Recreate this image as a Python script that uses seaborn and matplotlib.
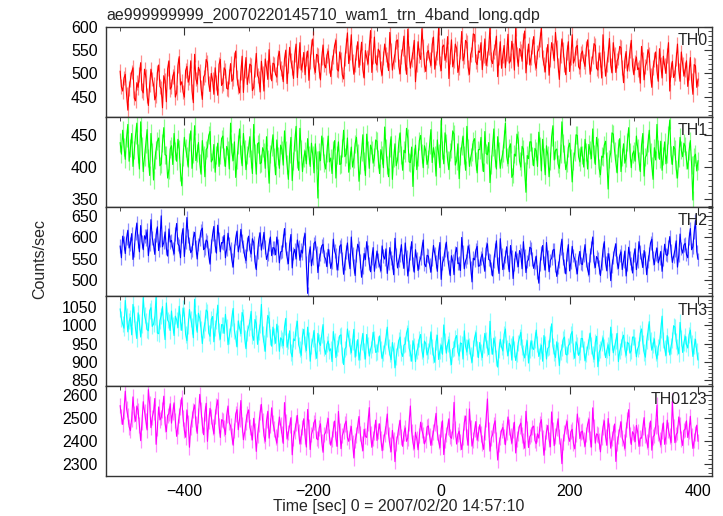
import numpy as np
import matplotlib
matplotlib.use("Agg")
import matplotlib.pyplot as plt
from matplotlib.ticker import MultipleLocator
import seaborn as sns

# light curve bins (2 s) from -500 to 400 sec
time = np.arange(-500, 401, 2)

th0 = [
    505, 471, 462, 490, 498, 455, 421, 468, 486, 503, 512, 447, 441, 480, 470, 497, 523, 464, 458, 509, 493, 452, 431, 476, 509, 488, 476, 443, 452, 501, 518, 472, 467, 426, 495, 484, 439, 510, 527, 466,
    471, 494, 503, 449, 458, 517, 536, 475, 482, 460, 449, 506, 515, 481, 490, 527, 462, 437, 541, 488, 477, 513, 505, 469, 444, 492, 498, 530, 523, 478, 461, 500, 486, 455, 512, 481, 453, 519, 530, 474,
    479, 512, 507, 468, 466, 493, 521, 483, 488, 529, 548, 491, 472, 458, 501, 537, 459, 505, 534, 476, 495, 520, 517, 463, 470, 508, 543, 496, 489, 460, 526, 499, 462, 531, 512, 487, 551, 503, 484, 522,
    520, 498, 492, 535, 547, 510, 503, 482, 531, 550, 478, 516, 556, 527, 512, 489, 540, 563, 491, 528, 566, 507, 519, 545, 497, 532, 548, 485, 525, 557, 574, 514, 502, 541, 538, 506, 486, 533, 561, 519,
    512, 539, 548, 516, 493, 524, 537, 560, 571, 509, 505, 546, 529, 497, 488, 531, 559, 587, 521, 544, 583, 526, 498, 518, 545, 568, 513, 535, 567, 508, 490, 549, 534, 520, 556, 592, 502, 537, 578, 523,
    518, 552, 547, 510, 496, 533, 563, 541, 529, 506, 588, 550, 507, 526, 541, 569, 572, 515, 499, 537, 553, 580, 524, 498, 595, 543, 511, 529, 546, 571, 482, 520, 568, 539, 530, 596, 557, 518, 504, 544,
    549, 530, 517, 562, 578, 509, 533, 545, 598, 521, 506, 557, 561, 528, 540, 579, 489, 536, 572, 514, 528, 563, 554, 502, 513, 547, 590, 527, 537, 571, 566, 512, 498, 541, 551, 585, 583, 525, 519, 548,
    545, 566, 508, 538, 574, 517, 532, 555, 600, 529, 521, 547, 556, 580, 493, 534, 568, 511, 539, 560, 512, 543, 584, 522, 527, 569, 550, 507, 597, 540, 515, 553, 548, 526, 570, 591, 501, 536, 563, 518,
    534, 557, 579, 524, 511, 546, 552, 573, 598, 535, 520, 503, 541, 562, 496, 530, 566, 549, 527, 588, 555, 518, 487, 539, 574, 551, 519, 497, 545, 568, 504, 533, 583, 522, 531, 556, 560, 514, 509, 542,
    548, 526, 515, 553, 572, 536, 498, 521, 537, 564, 560, 511, 507, 544, 529, 490, 583, 532, 494, 519, 541, 575, 518, 501, 566, 540, 502, 527, 533, 558, 555, 513, 480, 528, 547, 505, 522, 549, 571, 516,
    497, 523, 535, 508, 512, 479, 558, 530, 486, 515, 524, 551, 541, 495, 470, 512, 529, 546, 505, 483, 553, 520, 490, 537, 517, 500, 538, 566, 462, 509, 526, 491, 499, 531, 563, 507, 483, 546, 520, 494,
    508, 527, 472, 501, 534, 485, 455, 519, 516, 470, 488,
]
th1 = [
    438, 420, 457, 431, 412, 445, 466, 409, 429, 452, 401, 426, 449, 468, 421, 397, 470, 433, 393, 416, 436, 458, 414, 387, 452, 424, 380, 411, 427, 440, 445, 402, 405, 437, 461, 419, 418, 383, 396, 428,
    433, 404, 452, 425, 409, 443, 428, 392, 371, 415, 446, 430, 417, 400, 439, 456, 398, 421, 464, 410, 422, 438, 406, 389, 441, 419, 385, 427, 430, 449, 455, 408, 412, 435, 392, 418, 437, 401, 419, 444,
    448, 415, 401, 432, 426, 397, 468, 423, 410, 439, 384, 411, 435, 459, 420, 402, 452, 428, 396, 418, 429, 447, 413, 390, 466, 421, 389, 436, 438, 405, 407, 430, 424, 398, 447, 412, 375, 420, 431, 450,
    415, 388, 442, 417, 398, 434, 427, 403, 456, 426, 404, 381, 421, 446, 379, 410, 439, 463, 412, 395, 460, 428, 393, 414, 425, 405, 444, 419, 401, 437, 418, 391, 436, 411, 352, 424, 410, 448, 433, 407,
    397, 422, 448, 408, 414, 390, 426, 441, 383, 418, 439, 404, 405, 429, 457, 416, 420, 445, 392, 411, 431, 400, 413, 436, 446, 421, 378, 403, 424, 450, 409, 387, 451, 427, 398, 434, 427, 406, 415, 442,
    440, 412, 390, 427, 418, 399, 462, 430, 403, 385, 429, 447, 381, 414, 436, 402, 411, 438, 453, 419, 395, 426, 422, 460, 445, 408, 407, 431, 370, 415, 434, 396, 416, 441, 449, 421, 399, 433, 425, 404,
    412, 435, 458, 407, 430, 418, 386, 442, 421, 399, 472, 426, 405, 453, 437, 411, 396, 423, 428, 456, 451, 403, 410, 436, 382, 417, 433, 448, 418, 395, 463, 429, 401, 415, 424, 440, 444, 409, 391, 427,
    427, 446, 408, 393, 455, 421, 419, 438, 376, 404, 431, 459, 414, 397, 447, 425, 398, 412, 422, 443, 468, 416, 405, 430, 436, 384, 389, 420, 417, 451, 442, 409, 400, 432, 428, 394, 361, 418, 413, 439,
    439, 417, 402, 429, 425, 401, 454, 432, 394, 443, 416, 388, 433, 419, 385, 410, 447, 464, 411, 426, 428, 405, 398, 421, 470, 437, 420, 396, 406, 430, 437, 414, 377, 409, 423, 450, 449, 416, 408, 431,
    418, 400, 443, 424, 397, 435, 426, 413, 459, 420, 404, 446, 431, 398, 388, 417, 415, 434, 440, 409, 366, 412, 422, 453, 451, 425, 407, 391, 429, 444, 393, 416, 436, 406, 414, 439, 461, 423, 399, 420,
    425, 409, 448, 430, 410, 393, 434, 452, 386, 415, 419, 437, 457, 424, 402, 381, 430, 411, 466, 428, 412, 440, 395, 417, 439, 405, 421, 449, 473, 418, 404, 432, 428, 397, 383, 414, 446, 426, 416, 437,
    432, 411, 397, 425, 441, 403, 349, 416, 420, 394, 410,
]
th2 = [
    580, 552, 603, 587, 562, 598, 617, 575, 585, 609, 548, 571, 611, 634, 592, 566, 628, 590, 571, 604, 596, 618, 557, 583, 642, 599, 583, 560, 606, 625, 569, 594, 651, 578, 588, 613, 574, 556, 620, 589,
    593, 574, 561, 608, 633, 585, 580, 552, 604, 621, 555, 589, 647, 603, 586, 564, 570, 599, 612, 578, 549, 583, 596, 616, 622, 571, 575, 594, 590, 558, 537, 580, 607, 626, 581, 563, 629, 597, 566, 588,
    587, 605, 552, 573, 610, 586, 574, 547, 530, 569, 598, 615, 566, 581, 619, 592, 579, 556, 545, 584, 603, 571, 561, 597, 588, 543, 524, 565, 596, 611, 570, 589, 612, 577, 548, 560, 583, 601, 557, 576,
    575, 559, 601, 580, 540, 566, 567, 593, 621, 574, 553, 538, 585, 607, 528, 562, 572, 549, 594, 578, 546, 570, 563, 597, 609, 541, 468, 557, 578, 533, 552, 586, 590, 564, 517, 548, 561, 580, 584, 555,
    549, 531, 572, 556, 527, 542, 596, 568, 558, 523, 540, 579, 583, 550, 513, 539, 566, 587, 548, 526, 601, 561, 532, 510, 557, 584, 575, 544, 506, 530, 562, 548, 590, 565, 538, 519, 551, 576, 520, 543,
    568, 547, 534, 521, 580, 556, 549, 573, 515, 539, 576, 552, 542, 512, 598, 560, 528, 546, 559, 583, 545, 527, 587, 555, 509, 536, 563, 590, 537, 518, 571, 550, 522, 541, 551, 574, 594, 537, 531, 558,
    556, 535, 518, 549, 581, 562, 543, 520, 565, 588, 501, 540, 549, 571, 589, 553, 530, 510, 557, 544, 512, 563, 576, 538, 540, 522, 600, 566, 526, 545, 553, 580, 568, 529, 495, 551, 547, 570, 579, 532,
    533, 552, 561, 539, 520, 574, 585, 548, 546, 527, 509, 545, 570, 592, 538, 515, 597, 560, 524, 541, 555, 578, 542, 519, 581, 554, 503, 536, 566, 547, 531, 569, 559, 526, 590, 556, 517, 543, 548, 577,
    574, 549, 527, 541, 556, 518, 492, 537, 563, 581, 540, 523, 588, 555, 519, 546, 551, 570, 572, 534, 508, 529, 545, 575, 596, 550, 532, 514, 560, 583, 521, 542, 579, 557, 548, 530, 514, 552, 567, 538,
    536, 559, 583, 547, 525, 512, 558, 576, 601, 543, 529, 555, 549, 530, 510, 538, 571, 590, 540, 521, 562, 548, 498, 533, 553, 572, 585, 541, 527, 557, 566, 524, 545, 568, 509, 536, 577, 552, 538, 516,
    558, 573, 524, 545, 590, 566, 547, 529, 569, 551, 512, 543, 561, 587, 596, 552, 536, 561, 575, 540, 550, 567, 520, 548, 584, 560, 557, 578, 602, 569, 541, 555, 570, 592, 530, 558, 608, 574, 563, 582,
    586, 560, 552, 597, 621, 571, 578, 612, 640, 567, 548,
]
th3 = [
    1045, 1018, 1003, 992, 1068, 1026, 982, 1011, 1021, 974, 1057, 1031, 990, 964, 1034, 1009, 968, 1002, 1076, 1027, 1012, 988, 985, 1040, 1048, 997, 1003, 1022, 1080, 979, 977, 1013, 1026, 1051, 995, 961, 1061, 1014, 1008, 986,
    1039, 1001, 972, 1025, 1015, 994, 1052, 1010, 986, 1047, 1028, 975, 958, 999, 1043, 1018, 997, 966, 1071, 1008, 981, 1033, 1019, 990, 950, 987, 1006, 1042, 1037, 979, 970, 1016, 1024, 955, 993, 1011, 1055, 983, 962, 1002,
    1001, 978, 1030, 996, 947, 970, 989, 1021, 1046, 985, 966, 941, 1012, 993, 977, 1035, 1023, 964, 936, 980, 994, 1009, 1038, 972, 959, 1016, 1005, 948, 981, 1000, 1057, 976, 952, 929, 990, 1027, 1018, 968, 943, 995,
    972, 951, 1003, 980, 929, 966, 961, 944, 996, 1019, 940, 957, 985, 926, 914, 963, 958, 992, 1011, 947, 935, 918, 971, 989, 948, 931, 995, 960, 902, 944, 962, 986, 931, 910, 978, 953, 945, 975, 1002, 937,
    921, 948, 957, 930, 936, 901, 983, 958, 912, 939, 949, 972, 974, 920, 893, 935, 941, 990, 966, 944, 925, 955, 989, 913, 938, 961, 905, 927, 954, 978, 931, 908, 975, 946, 916, 934, 947, 981, 962, 926,
    928, 950, 971, 936, 909, 924, 944, 967, 995, 941, 922, 906, 953, 932, 884, 915, 937, 959, 968, 925, 915, 946, 949, 979, 992, 938, 926, 902, 958, 943, 901, 929, 940, 963, 975, 931, 913, 957, 950, 919,
    931, 945, 982, 940, 918, 899, 955, 973, 907, 930, 946, 921, 1001, 957, 924, 948, 961, 914, 893, 936, 939, 964, 972, 928, 916, 952, 950, 908, 985, 942, 927, 960, 944, 918, 899, 937, 966, 980, 935, 912,
    953, 928, 912, 947, 978, 959, 939, 920, 1011, 944, 921, 965, 948, 910, 886, 933, 962, 941, 930, 975, 990, 938, 917, 951, 944, 905, 969, 936, 904, 923, 952, 967, 981, 940, 925, 911, 940, 958, 897, 932,
    958, 939, 934, 961, 987, 948, 915, 929, 946, 902, 972, 950, 908, 937, 941, 976, 1004, 943, 926, 912, 955, 933, 890, 928, 937, 962, 968, 921, 919, 944, 949, 975, 983, 930, 910, 955, 945, 918, 927, 964,
    964, 936, 903, 922, 940, 958, 979, 945, 921, 907, 953, 970, 887, 926, 934, 951, 966, 940, 912, 932, 947, 917, 995, 956, 925, 942, 958, 978, 901, 929, 942, 962, 973, 935, 918, 954, 950, 924, 931, 968,
    968, 947, 914, 936, 945, 978, 990, 952, 926, 913, 957, 982, 1010, 959, 932, 946, 963, 925, 908, 940, 951, 987, 1025, 961, 937, 918, 972, 950, 919, 943, 960, 999, 995, 957, 941, 922, 1008, 966, 926, 953,
    970, 948, 938, 974, 987, 952, 915, 943, 962, 929, 905,
]
th0123 = [
    2555, 2508, 2472, 2531, 2618, 2540, 2510, 2462, 2445, 2497, 2593, 2517, 2486, 2553, 2534, 2470, 2401, 2482, 2572, 2529, 2490, 2448, 2625, 2561, 2458, 2503, 2527, 2586, 2385, 2454, 2549, 2492, 2503, 2536, 2596, 2475, 2441, 2512, 2520, 2563,
    2478, 2526, 2567, 2489, 2420, 2463, 2512, 2548, 2589, 2501, 2447, 2416, 2536, 2480, 2372, 2459, 2495, 2533, 2558, 2476, 2433, 2511, 2604, 2538, 2470, 2427, 2521, 2565, 2398, 2484, 2543, 2506, 2462, 2431, 2507, 2552, 2580, 2468, 2415, 2493,
    2490, 2457, 2428, 2512, 2553, 2480, 2466, 2421, 2381, 2446, 2518, 2537, 2449, 2495, 2577, 2472, 2405, 2438, 2482, 2519, 2536, 2460, 2437, 2404, 2499, 2443, 2354, 2425, 2471, 2526, 2560, 2487, 2423, 2398, 2489, 2530, 2412, 2467, 2545, 2478,
    2452, 2416, 2390, 2451, 2505, 2469, 2431, 2389, 2568, 2486, 2408, 2437, 2467, 2502, 2339, 2412, 2443, 2478, 2512, 2440, 2386, 2420, 2459, 2497, 2421, 2373, 2538, 2463, 2362, 2429, 2448, 2481, 2493, 2410, 2405, 2456, 2475, 2396, 2350, 2427,
    2437, 2470, 2498, 2419, 2381, 2408, 2452, 2487, 2410, 2376, 2529, 2445, 2366, 2423, 2441, 2473, 2487, 2414, 2398, 2436, 2463, 2392, 2325, 2401, 2426, 2468, 2507, 2433, 2389, 2357, 2451, 2421, 2415, 2479, 2546, 2430, 2372, 2411, 2438, 2491,
    2402, 2443, 2475, 2410, 2357, 2396, 2431, 2465, 2518, 2427, 2384, 2352, 2446, 2406, 2309, 2389, 2420, 2459, 2491, 2418, 2376, 2435, 2457, 2398, 2412, 2478, 2553, 2441, 2393, 2365, 2438, 2409, 2361, 2424, 2482, 2447, 2425, 2387, 2404, 2461,
    2466, 2421, 2380, 2415, 2439, 2476, 2521, 2437, 2398, 2370, 2453, 2488, 2340, 2401, 2427, 2462, 2497, 2419, 2411, 2444, 2569, 2452, 2386, 2428, 2443, 2395, 2362, 2417, 2480, 2509, 2418, 2381, 2540, 2458, 2377, 2404, 2449, 2485, 2403, 2432,
    2471, 2430, 2391, 2363, 2436, 2497, 2584, 2450, 2355, 2412, 2427, 2469, 2488, 2403, 2316, 2385, 2414, 2446, 2459, 2420, 2383, 2437, 2505, 2461, 2422, 2390, 2447, 2482, 2347, 2408, 2433, 2466, 2478, 2425, 2399, 2368, 2530, 2455, 2371, 2419,
    2428, 2459, 2465, 2402, 2388, 2431, 2412, 2476, 2493, 2415, 2337, 2392, 2441, 2468, 2407, 2374, 2527, 2449, 2379, 2421, 2455, 2497, 2420, 2380, 2300, 2395, 2434, 2463, 2486, 2417, 2398, 2441, 2451, 2389, 2365, 2427, 2518, 2472, 2410, 2438,
    2443, 2407, 2376, 2429, 2472, 2495, 2409, 2373, 2545, 2462, 2390, 2431, 2426, 2399, 2352, 2415, 2461, 2488, 2417, 2381, 2498, 2445, 2368, 2410, 2437, 2474, 2310, 2388, 2420, 2452, 2484, 2412, 2395, 2367, 2449, 2491, 2537, 2426, 2384, 2440,
    2430, 2397, 2468, 2439, 2376, 2413, 2412, 2458, 2502, 2426, 2398, 2371, 2451, 2487, 2359, 2418, 2425, 2466, 2558, 2434, 2407, 2382, 2444, 2479, 2385, 2420, 2491, 2447, 2421, 2393, 2574, 2463, 2392, 2428, 2436, 2505, 2470, 2409, 2380, 2446,
    2452, 2488, 2415, 2443, 2508, 2422, 2367, 2401, 2433, 2469, 2398,
]
# typical 1-sigma error bar per band (counts/sec), read off the light shading
errors = [16, 14, 16, 22, 34]

series = [th0, th1, th2, th3, th0123]
names = ["TH0", "TH1", "TH2", "TH3", "TH0123"]
colors = ["#ff0000", "#00ff00", "#0000ff", "#00ffff", "#ff00ff"]
ylims = [(407, 600), (339, 478), (461, 673), (834, 1079), (2246, 2640)]
major = [50, 50, 50, 50, 100]
minor = [10, 10, 10, 10, 20]

sns.set_style("white")
plt.rcParams['font.family'] = ['Liberation Sans', 'DejaVu Sans']
plt.rcParams['font.size'] = 11

fig, axes = plt.subplots(5, 1, figsize=(7.23, 5.16), dpi=100, sharex=True)
fig.subplots_adjust(left=0.1466, right=0.985, top=0.948, bottom=0.0775, hspace=0)

for i, ax in enumerate(axes):
    y = np.array(series[i])
    # qdp style vertical error bars, drawn lighter under the line
    ax.errorbar(time, y, yerr=errors[i], fmt='none', ecolor=colors[i], alpha=0.45, elinewidth=0.9)
    sns.lineplot(x=time, y=y, ax=ax, color=colors[i], lw=0.8)
    ax.set_xlim(-522, 422)
    ax.set_ylim(*ylims[i])
    ax.yaxis.set_major_locator(MultipleLocator(major[i]))
    ax.yaxis.set_minor_locator(MultipleLocator(minor[i]))
    ax.xaxis.set_major_locator(MultipleLocator(200))
    ax.xaxis.set_minor_locator(MultipleLocator(100))
    ax.tick_params(which='both', direction='in', top=True, right=True, colors='#333333',
                   labelcolor='black', labelsize=11.5, pad=6)
    ax.tick_params(which='major', length=6, width=0.8)
    ax.tick_params(which='minor', length=3, width=0.6)
    for s in ax.spines.values():
        s.set_color('#333333')
        s.set_linewidth(1.0)
        s.set_zorder(5)
    ax.text(0.992, 0.93, names[i], transform=ax.transAxes, ha='right', va='top', fontsize=11.5, zorder=6)
    ax.set_ylabel("")
    if i < 4:
        ax.tick_params(labelbottom=False)

axes[-1].set_xticks([-400, -200, 0, 200, 400])

fig.text(0.1466, 0.971, "ae999999999_20070220145710_wam1_trn_4band_long.qdp", ha='left', va='center', fontsize=11.5)
fig.text(0.055, 0.498, "Counts/sec", rotation=90, ha='center', va='center', fontsize=11.5)
fig.text(0.551, 0.018, "Time [sec] 0 = 2007/02/20 14:57:10", ha='center', va='center', fontsize=11.5)

plt.savefig("out.png", dpi=100)
